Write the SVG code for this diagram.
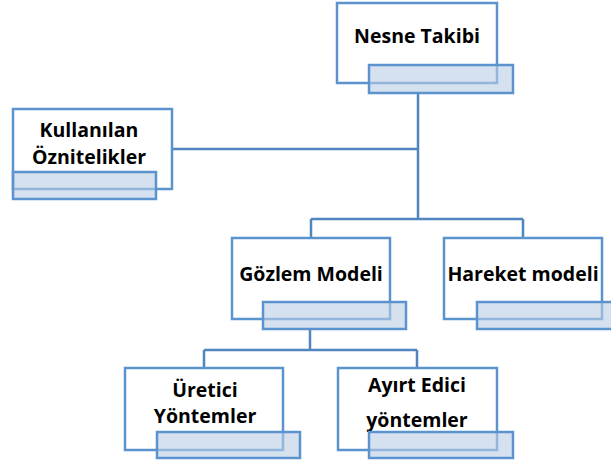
<svg xmlns="http://www.w3.org/2000/svg" width="611" height="464" viewBox="0 0 611 464">
  <style>
    .box { fill: #ffffff; stroke: #5b93cf; stroke-width: 2.5; }
    .tag { fill: #b9cde5; fill-opacity: 0.6; stroke: #5b93cf; stroke-width: 2.5; }
    .wire { fill: none; stroke: #4f86c0; stroke-width: 2.5; }
    text { font-family: "Open Sans", "Liberation Sans", sans-serif; font-weight: 700; font-size: 19.5px; fill: #000; text-anchor: middle; }
  </style>
  <rect width="611" height="464" fill="#ffffff"/>

  <g id="connectors">
    <path class="wire" d="M418 93 V219 M172 149 H418 M311 219 H523 M311 219 V238 M523 219 V238"/>
    <path class="wire" d="M310 329 V350 M204 350 H417 M204 350 V368 M417 350 V368"/>
  </g>

  <g id="nesne-takibi">
    <rect class="box" x="337" y="3" width="160" height="80"/>
    <text x="417" y="43">Nesne Takibi</text>
    <rect class="tag" x="369" y="65" width="144" height="28"/>
  </g>

  <g id="kullanilan-oznitelikler">
    <rect class="box" x="13" y="109" width="159" height="80"/>
    <text x="89" y="137">Kullanılan</text>
    <text x="89" y="164">Öznitelikler</text>
    <rect class="tag" x="13" y="172" width="143" height="27"/>
  </g>

  <g id="gozlem-modeli">
    <rect class="box" x="232" y="238" width="158" height="81"/>
    <text x="311" y="281">Gözlem Modeli</text>
    <rect class="tag" x="263" y="302" width="143" height="27"/>
  </g>

  <g id="hareket-modeli">
    <rect class="box" x="444" y="238" width="158" height="81"/>
    <text x="523" y="281">Hareket modeli</text>
    <rect class="tag" x="477" y="302" width="143" height="27"/>
  </g>

  <g id="uretici-yontemler">
    <rect class="box" x="125" y="368" width="158" height="82"/>
    <text x="205" y="397">Üretici</text>
    <text x="205" y="423">Yöntemler</text>
    <rect class="tag" x="157" y="432" width="143" height="26"/>
  </g>

  <g id="ayirt-edici-yontemler">
    <rect class="box" x="338" y="368" width="159" height="82"/>
    <text x="417" y="392">Ayırt Edici</text>
    <text x="417" y="427">yöntemler</text>
    <rect class="tag" x="369" y="432" width="144" height="26"/>
  </g>
</svg>
